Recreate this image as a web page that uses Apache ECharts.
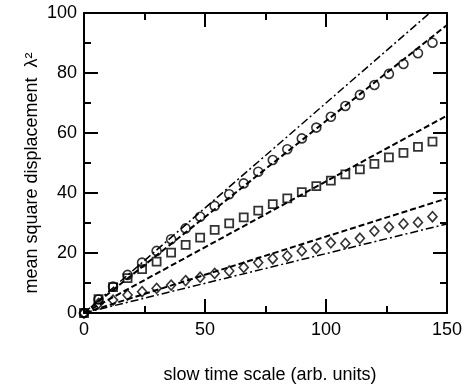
<!DOCTYPE html>
<html>
<head>
<meta charset="utf-8">
<script src="https://cdn.jsdelivr.net/npm/echarts@6/dist/echarts.min.js"></script>
<style>
html,body{margin:0;padding:0;background:#fff;}
#c{width:470px;height:386px;}
</style>
</head>
<body>
<div id="c"></div>
<script>
// ---- data ----
const timeX = [0, 6, 12, 18, 24, 30, 36, 42, 48, 54, 60, 66, 72, 78, 84, 90, 96, 102, 108, 114, 120, 126, 132, 138, 144];
const circleY = [0, 4.5, 8.8, 12.7, 16.8, 20.7, 24.6, 28.2, 32.1, 35.7, 39.6, 43.2, 47.1, 51.0, 54.6, 58.2, 61.8, 65.4, 69.0, 72.7, 76.0, 79.7, 83.0, 86.6, 90.1];
const squareY = [0, 4.6, 8.6, 11.6, 14.6, 17.1, 20.1, 22.7, 25.1, 27.7, 29.9, 31.9, 34.1, 36.3, 38.2, 40.3, 42.3, 44.1, 46.2, 47.9, 49.7, 51.9, 53.4, 55.4, 57.1];
const diamondY = [0, 3.2, 4.3, 6.0, 7.1, 8.2, 9.3, 10.8, 11.9, 13.2, 14.0, 15.2, 16.8, 18.1, 19.0, 20.7, 21.6, 23.4, 23.2, 24.9, 27.3, 28.6, 29.7, 30.2, 32.1];
const fitX = [0, 150];
const steepDashDotY = [0, 105];
const upperDashedY = [0, 96];
const middleDashedY = [0, 65.8];
const lowerDashedY = [0, 38.2];
const lowerDashDotY = [0, 29.7];
const xTicks = [0, 50, 100, 150];
const yTicks = [0, 20, 40, 60, 80, 100];
const xTitle = 'slow time scale (arb. units)';
const yTitle = 'mean square displacement  λ²';

const pairs = (xs, ys) => xs.map((x, i) => [x, ys[i]]);
const FONT = '"Liberation Sans", Arial, Helvetica, sans-serif';

function ax(extra) {
  return Object.assign({
    type: 'value',
    z: 100,
    axisLine: {show: true, onZero: false, lineStyle: {color: '#000', width: 2}},
    axisTick: {show: true, inside: true, length: 14, lineStyle: {color: '#000', width: 2}},
    minorTick: {show: true, splitNumber: 2, length: 7, lineStyle: {color: '#000', width: 2}},
    splitLine: {show: false}
  }, extra);
}

const chart = echarts.init(document.getElementById('c'));
chart.setOption({
  animation: false,
  grid: {left: 84, right: 23, top: 13, bottom: 73, outerBoundsMode: 'none', containLabel: false},
  graphic: [
    {type: 'text', x: 270, y: 375,
     style: {text: xTitle, font: '18px ' + FONT, fill: '#000', align: 'center', verticalAlign: 'middle'}},
    {type: 'text', x: 32, y: 173, rotation: Math.PI / 2,
     style: {text: yTitle, font: '18px ' + FONT, fill: '#000', align: 'center', verticalAlign: 'middle'}}
  ],
  xAxis: [
    ax({min: xTicks[0], max: xTicks[xTicks.length - 1], interval: 50, position: 'bottom',
        axisLabel: {margin: 8, fontFamily: FONT, fontSize: 18, color: '#000'}}),
    ax({min: xTicks[0], max: xTicks[xTicks.length - 1], interval: 50, position: 'top',
        axisLabel: {show: false}})
  ],
  yAxis: [
    ax({min: yTicks[0], max: yTicks[yTicks.length - 1], interval: 20, position: 'left',
        axisLabel: {margin: 7, fontFamily: FONT, fontSize: 18, color: '#000'}}),
    ax({min: yTicks[0], max: yTicks[yTicks.length - 1], interval: 20, position: 'right',
        axisLabel: {show: false}})
  ],
  series: [
    {type: 'line', data: pairs(fitX, steepDashDotY), showSymbol: false,
     lineStyle: {color: '#000', width: 1.5, type: [8, 3, 2, 3]}},
    {type: 'line', data: pairs(fitX, upperDashedY), showSymbol: false,
     lineStyle: {color: '#000', width: 2, type: [6, 3]}},
    {type: 'line', data: pairs(fitX, middleDashedY), showSymbol: false,
     lineStyle: {color: '#000', width: 2, type: [6, 3]}},
    {type: 'line', data: pairs(fitX, lowerDashedY), showSymbol: false,
     lineStyle: {color: '#000', width: 2, type: [6, 3]}},
    {type: 'line', data: pairs(fitX, lowerDashDotY), showSymbol: false,
     lineStyle: {color: '#000', width: 1.5, type: [8, 3, 2, 3]}},
    {type: 'scatter', data: pairs(timeX, circleY), symbol: 'circle', symbolSize: 9,
     itemStyle: {color: 'rgba(0,0,0,0)', borderColor: '#000', borderWidth: 1.6}},
    {type: 'scatter', data: pairs(timeX, squareY), symbol: 'rect', symbolSize: 8,
     itemStyle: {color: 'rgba(0,0,0,0)', borderColor: '#000', borderWidth: 1.8}},
    {type: 'scatter', data: pairs(timeX, diamondY), symbol: 'diamond', symbolSize: [9, 10],
     itemStyle: {color: 'rgba(0,0,0,0)', borderColor: '#000', borderWidth: 1.6}}
  ]
});
</script>
</body>
</html>
